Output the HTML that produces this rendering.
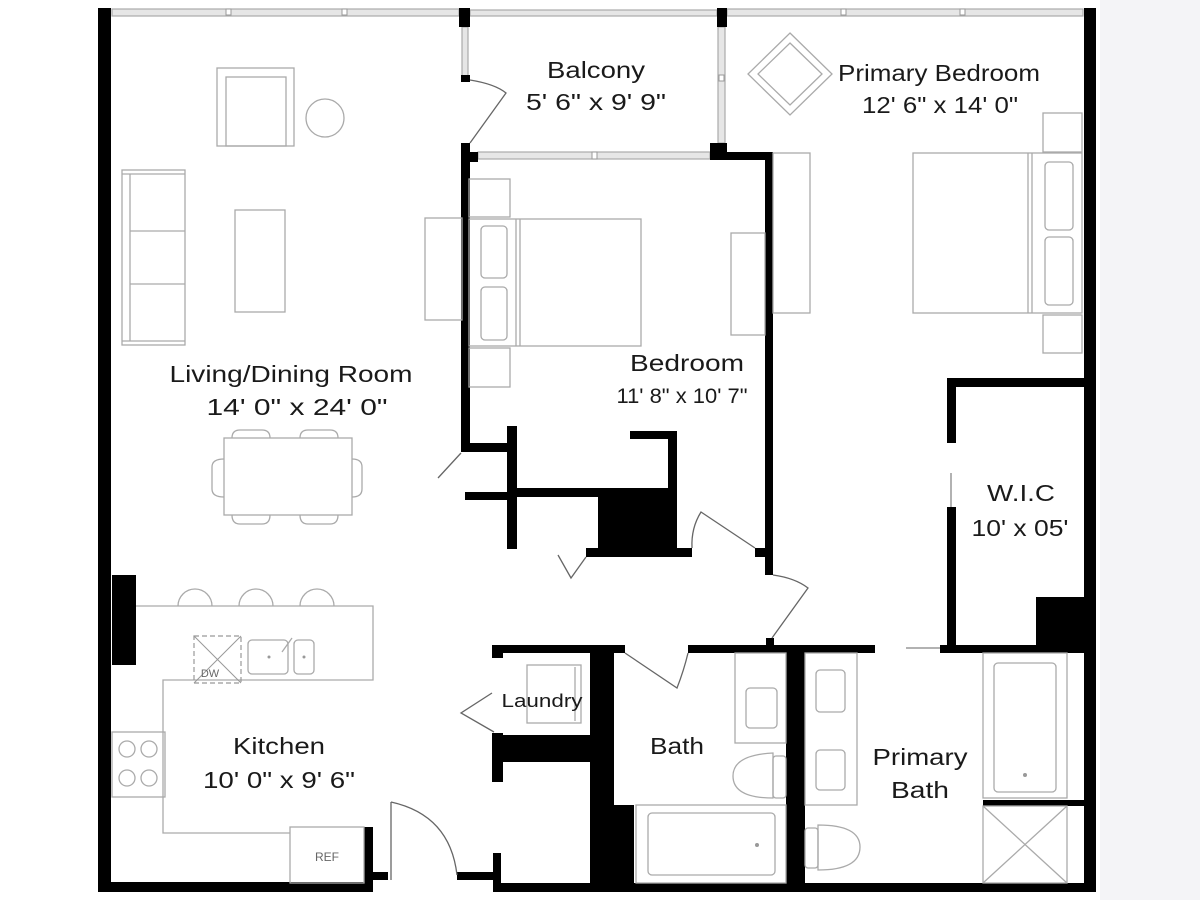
<!DOCTYPE html>
<html><head><meta charset="utf-8"><style>
html,body{margin:0;padding:0;background:#fff;}
svg{display:block;}
text{font-family:"Liberation Sans",sans-serif;fill:#1a1a1a;}
</style></head><body>
<svg width="1200" height="900" viewBox="0 0 1200 900" xmlns="http://www.w3.org/2000/svg">
<rect x="0" y="0" width="1200" height="900" fill="#fff"/>
<rect x="1100" y="0" width="100" height="900" fill="#f4f4f7"/>

<g fill="#e6e6e6" stroke="#aaa" stroke-width="1.2">
  <rect x="112" y="9" width="347" height="7"/>
  <rect x="470" y="10" width="247" height="6"/>
  <rect x="727" y="9" width="356" height="7"/>
  <rect x="462" y="27" width="6" height="50"/>
  <rect x="718" y="27" width="7" height="116"/>
  <rect x="478" y="152" width="232" height="7"/>
</g>
<g fill="#fff" stroke="#999" stroke-width="1">
  <rect x="226" y="9" width="5" height="6"/><rect x="342" y="9" width="5" height="6"/>
  <rect x="592" y="152" width="5" height="7"/>
  <rect x="719" y="75" width="5" height="6"/>
  <rect x="841" y="9" width="5" height="6"/><rect x="960" y="9" width="5" height="6"/>
</g>

<g fill="#000">
  <rect x="98" y="8" width="13" height="884"/>
  <rect x="98" y="882" width="275" height="10"/>
  <rect x="364" y="827" width="9" height="65"/>
  <rect x="373" y="872" width="15" height="8"/>
  <rect x="457" y="872" width="38" height="8"/>
  <rect x="493" y="853" width="8" height="39"/>
  <rect x="493" y="883" width="603" height="9"/>
  <rect x="1084" y="8" width="12" height="884"/>
  <rect x="459" y="8" width="11" height="19"/>
  <rect x="461" y="75" width="9" height="7"/>
  <rect x="717" y="8" width="10" height="19"/>
  <rect x="710" y="143" width="17" height="17"/>
  <rect x="710" y="152" width="63" height="8"/>
  <rect x="461" y="143" width="9" height="309"/>
  <rect x="461" y="152" width="17" height="10"/>
  <rect x="765" y="152" width="8" height="423"/>
  <rect x="755" y="548" width="18" height="9"/>
  <rect x="461" y="443" width="51" height="9"/>
  <rect x="507" y="426" width="10" height="123"/>
  <rect x="465" y="492" width="44" height="8"/>
  <rect x="516" y="488" width="152" height="9"/>
  <rect x="598" y="488" width="79" height="69"/>
  <rect x="668" y="431" width="9" height="126"/>
  <rect x="630" y="431" width="47" height="8"/>
  <rect x="586" y="548" width="106" height="9"/>
  <rect x="112" y="575" width="24" height="90"/>
  <rect x="492" y="645" width="133" height="8"/>
  <rect x="688" y="645" width="187" height="8"/>
  <rect x="766" y="638" width="8" height="10"/>
  <rect x="492" y="645" width="11" height="13"/>
  <rect x="492" y="733" width="11" height="49"/>
  <rect x="492" y="735" width="98" height="27"/>
  <rect x="590" y="645" width="24" height="240"/>
  <rect x="614" y="805" width="20" height="80"/>
  <rect x="786" y="645" width="19" height="240"/>
  <rect x="947" y="378" width="137" height="9"/>
  <rect x="947" y="378" width="9" height="65"/>
  <rect x="947" y="507" width="9" height="146"/>
  <rect x="940" y="645" width="145" height="8"/>
  <rect x="1036" y="597" width="49" height="50"/>
  <rect x="983" y="800" width="102" height="6"/>
</g>
<line x1="951" y1="473" x2="951" y2="507" stroke="#999" stroke-width="1.5"/>
<line x1="906" y1="648" x2="940" y2="648" stroke="#999" stroke-width="1.5"/>

<g fill="none" stroke="#666" stroke-width="1.3">
  <path d="M470 80 Q495 84 506 93 L470 143"/>
  <line x1="438" y1="478" x2="461" y2="453"/>
  <path d="M558 555 L571 578 L586 557"/>
  <path d="M755 548 L701 512 Q691 528 692 548"/>
  <path d="M773 575 Q795 578 808 588 L772 638"/>
  <path d="M492 693 L461 713 L494 732"/>
  <path d="M625 653 L677 688 Q684 670 688 653"/>
  <path d="M391 802 L391 880 M391 802 Q450 815 457 875"/>
</g>

<g fill="none" stroke="#aaa" stroke-width="1.3">
  <rect x="217" y="68" width="77" height="78"/>
  <rect x="226" y="77" width="60" height="69"/>
  <circle cx="325" cy="118" r="19"/>
  <rect x="122" y="170" width="63" height="175"/>
  <line x1="130" y1="174" x2="130" y2="341"/>
  <line x1="122" y1="174" x2="185" y2="174"/><line x1="122" y1="341" x2="185" y2="341"/>
  <line x1="130" y1="231" x2="185" y2="231"/><line x1="130" y1="284" x2="185" y2="284"/>
  <rect x="235" y="210" width="50" height="102"/>
  <rect x="425" y="218" width="37" height="102"/>
  <rect x="469" y="179" width="41" height="38"/>
  <rect x="469" y="348" width="41" height="39"/>
  <rect x="469" y="219" width="172" height="127"/>
  <line x1="516" y1="219" x2="516" y2="346"/><line x1="520" y1="219" x2="520" y2="346"/>
  <rect x="481" y="226" width="26" height="52" rx="4"/>
  <rect x="481" y="287" width="26" height="53" rx="4"/>
  <rect x="731" y="233" width="34" height="102"/>
  <rect x="773" y="153" width="37" height="160"/>
  <rect x="913" y="153" width="169" height="160"/>
  <line x1="1028" y1="153" x2="1028" y2="313"/><line x1="1032" y1="153" x2="1032" y2="313"/>
  <rect x="1045" y="162" width="28" height="68" rx="4"/>
  <rect x="1045" y="237" width="28" height="68" rx="4"/>
  <rect x="1043" y="113" width="39" height="39"/>
  <rect x="1043" y="315" width="39" height="38"/>
  <polygon points="790,33 832,74 790,115 748,74"/>
  <polygon points="790,43 822,74 790,105 758,74"/>
  <rect x="224" y="438" width="128" height="77"/>
  <path d="M232 438 Q232 430 240 430 L262 430 Q270 430 270 438"/>
  <path d="M300 438 Q300 430 308 430 L330 430 Q338 430 338 438"/>
  <path d="M232 515 Q232 524 240 524 L262 524 Q270 524 270 515"/>
  <path d="M300 515 Q300 524 308 524 L330 524 Q338 524 338 515"/>
  <path d="M224 459 Q212 459 212 467 L212 489 Q212 497 224 497"/>
  <path d="M352 459 Q362 459 362 467 L362 489 Q362 497 352 497"/>
  <path d="M136 606 L373 606 L373 680 L163 680 L163 833 L290 833"/>
  <path d="M178 606 A17 17 0 0 1 212 606"/>
  <path d="M239 606 A17 17 0 0 1 273 606"/>
  <path d="M300 606 A17 17 0 0 1 334 606"/>
  <rect x="248" y="640" width="40" height="34" rx="4"/>
  <rect x="294" y="640" width="20" height="34" rx="4"/>
  <line x1="282" y1="652" x2="292" y2="638"/>
  <rect x="112" y="732" width="53" height="65"/>
  <circle cx="127" cy="749" r="8"/><circle cx="149" cy="749" r="8"/>
  <circle cx="127" cy="778" r="8"/><circle cx="149" cy="778" r="8"/>
  <rect x="290" y="827" width="74" height="56"/>
  <rect x="527" y="665" width="54" height="58"/>
  <line x1="575" y1="667" x2="575" y2="721"/>
  <rect x="735" y="653" width="51" height="90"/>
  <rect x="746" y="688" width="31" height="40" rx="4"/>
  <path d="M773 753 Q733 755 733 776 Q733 798 773 798 Z"/>
  <rect x="773" y="756" width="13" height="42" rx="3"/>
  <rect x="636" y="805" width="150" height="78"/>
  <rect x="648" y="813" width="127" height="62" rx="4"/>
  <rect x="805" y="653" width="52" height="152"/>
  <rect x="816" y="670" width="29" height="42" rx="4"/>
  <rect x="816" y="750" width="29" height="40" rx="4"/>
  <path d="M818 825 Q860 825 860 847 Q860 870 818 870 Z"/>
  <rect x="805" y="828" width="13" height="40" rx="3"/>
  <rect x="983" y="653" width="84" height="145"/>
  <rect x="994" y="663" width="62" height="129" rx="4"/>
  <rect x="983" y="806" width="84" height="77"/>
  <line x1="983" y1="806" x2="1067" y2="883"/><line x1="1067" y1="806" x2="983" y2="883"/>
</g>
<g fill="none" stroke="#999" stroke-width="1.2" stroke-dasharray="5,3">
  <rect x="194" y="636" width="47" height="47"/>
</g>
<g stroke="#999" stroke-width="1"><line x1="194" y1="636" x2="241" y2="683"/><line x1="241" y1="636" x2="194" y2="683"/></g>
<g fill="#999"><circle cx="269" cy="657" r="1.5"/><circle cx="304" cy="657" r="1.5"/><circle cx="1025" cy="775" r="2"/><circle cx="757" cy="845" r="2"/></g>

<g font-size="23" text-anchor="middle">
  <text x="596" y="78" textLength="98" lengthAdjust="spacingAndGlyphs">Balcony</text>
  <text x="596" y="110" textLength="140" lengthAdjust="spacingAndGlyphs">5' 6" x 9' 9"</text>
  <text x="939" y="81" textLength="202" lengthAdjust="spacingAndGlyphs">Primary Bedroom</text>
  <text x="940" y="113" textLength="156" lengthAdjust="spacingAndGlyphs">12' 6" x 14' 0"</text>
  <text x="291" y="382" textLength="243" lengthAdjust="spacingAndGlyphs">Living/Dining Room</text>
  <text x="297" y="415" textLength="181" lengthAdjust="spacingAndGlyphs">14' 0" x 24' 0"</text>
  <text x="687" y="371" textLength="114" lengthAdjust="spacingAndGlyphs">Bedroom</text>
  <text x="682" y="403" font-size="21" textLength="131" lengthAdjust="spacingAndGlyphs">11' 8" x 10' 7"</text>
  <text x="1021" y="501" textLength="68" lengthAdjust="spacingAndGlyphs">W.I.C</text>
  <text x="1020" y="536" textLength="97" lengthAdjust="spacingAndGlyphs">10' x 05'</text>
  <text x="279" y="754" textLength="92" lengthAdjust="spacingAndGlyphs">Kitchen</text>
  <text x="279" y="788" textLength="152" lengthAdjust="spacingAndGlyphs">10' 0" x 9' 6"</text>
  <text x="677" y="754" textLength="54" lengthAdjust="spacingAndGlyphs">Bath</text>
  <text x="920" y="765" textLength="95" lengthAdjust="spacingAndGlyphs">Primary</text>
  <text x="920" y="798" textLength="58" lengthAdjust="spacingAndGlyphs">Bath</text>
  <text x="542" y="707" font-size="18" textLength="81" lengthAdjust="spacingAndGlyphs">Laundry</text>
  <text x="327" y="861" font-size="12" style="fill:#666">REF</text>
  <text x="210" y="677" font-size="11" style="fill:#666">DW</text>
</g>
</svg>
</body></html>
